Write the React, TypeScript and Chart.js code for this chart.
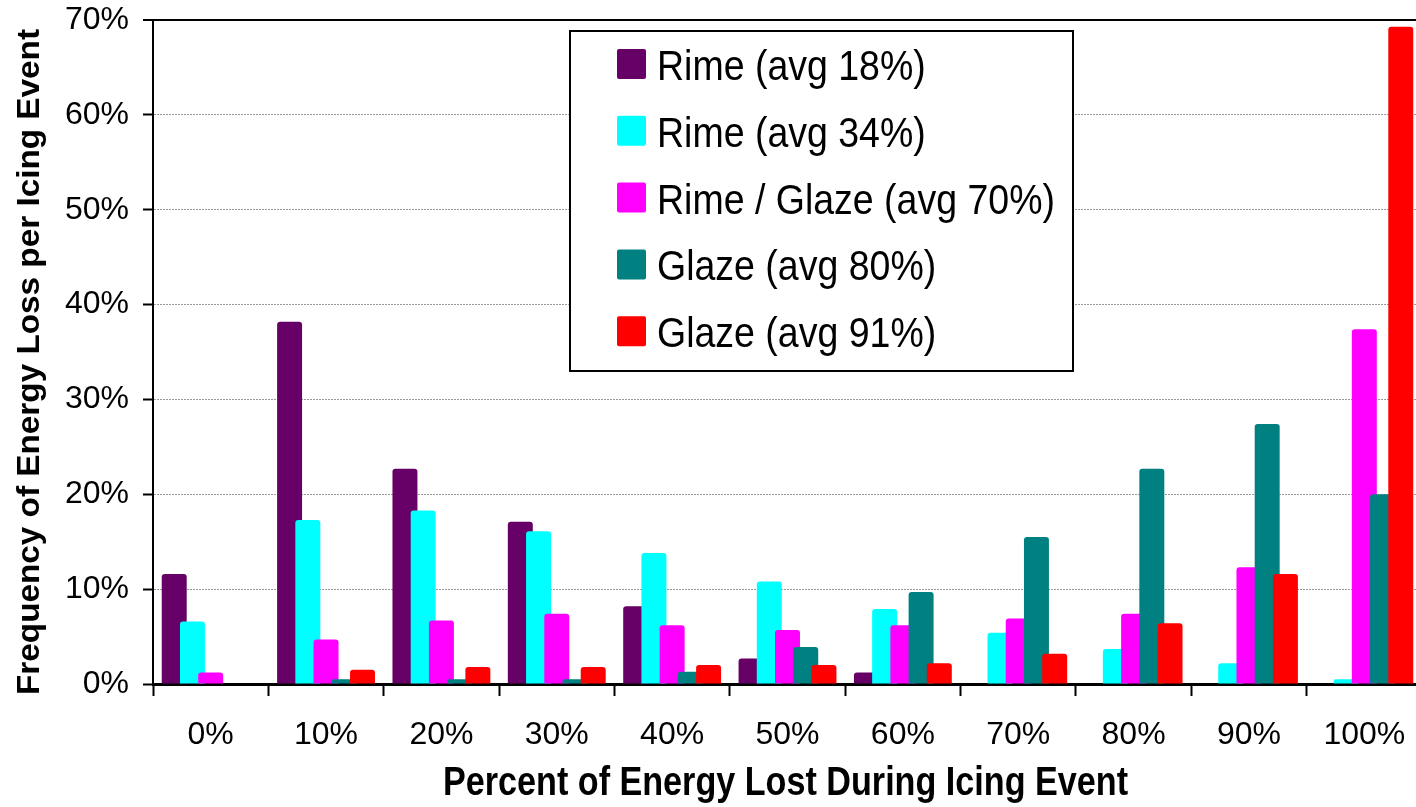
import { useEffect, useRef } from "react";
import { Chart, registerables } from "chart.js";

Chart.register(...registerables);

// Percent of energy lost during an icing event (x categories)
const categories = ["0%", "10%", "20%", "30%", "40%", "50%", "60%", "70%", "80%", "90%", "100%"];

// Frequency (%) of each energy-loss bin, one array per icing type
const rimeAvg18 = [11.6, 38.2, 22.7, 17.1, 8.2, 2.7, 1.2, 0, 0, 0, 0];
const rimeAvg34 = [6.6, 17.3, 18.3, 16.1, 13.8, 10.8, 7.9, 5.4, 3.7, 2.2, 0.5];
const rimeGlazeAvg70 = [1.2, 4.7, 6.7, 7.4, 6.2, 5.7, 6.2, 6.9, 7.4, 12.3, 37.4];
const glazeAvg80 = [0, 0.5, 0.5, 0.5, 1.3, 3.9, 9.7, 15.5, 22.7, 27.4, 20.0];
const glazeAvg91 = [0, 1.5, 1.8, 1.8, 2.0, 2.0, 2.2, 3.2, 6.4, 11.6, 69.3];

const seriesNames = [
  "Rime (avg 18%)",
  "Rime (avg 34%)",
  "Rime / Glaze (avg 70%)",
  "Glaze (avg 80%)",
  "Glaze (avg 91%)",
];
const seriesValues = [rimeAvg18, rimeAvg34, rimeGlazeAvg70, glazeAvg80, glazeAvg91];
const seriesColors = ["#660066", "#00FFFF", "#FF00FF", "#008080", "#FF0000"];

// y axis range and tick step, in percent
const yMin = 0;
const yMax = 70;
const yStep = 10;

const xTitle = "Percent of Energy Lost During Icing Event";
const yTitle = "Frequency of Energy Loss per Icing Event";

const SANS = "'Liberation Sans', Arial, Helvetica, sans-serif";

// Draws text squeezed or stretched along its direction to a given length
function drawFitted(
  ctx: CanvasRenderingContext2D,
  text: string,
  x: number,
  y: number,
  length: number,
  font: string,
  rotate = 0
) {
  ctx.save();
  ctx.font = font;
  ctx.textAlign = "center";
  ctx.textBaseline = "alphabetic";
  ctx.fillStyle = "#000";
  const w = ctx.measureText(text).width;
  ctx.translate(x, y);
  if (rotate) ctx.rotate(rotate);
  ctx.scale(length / w, 1);
  ctx.fillText(text, 0, 0);
  ctx.restore();
}

// Later series are painted over earlier ones where neighbouring bars overlap
const paintInSeriesOrder = {
  id: "paintInSeriesOrder",
  beforeDatasetsDraw(chart: any) {
    for (let i = 0; i < chart.data.datasets.length; i++) {
      const meta = chart.getDatasetMeta(i);
      if (meta.visible !== false) meta.controller.draw();
    }
    return false;
  },
};

// Boxed legend inside the plot and the two axis titles
const legendAndTitles = {
  id: "legendAndTitles",
  afterDraw(chart: any) {
    const { ctx, chartArea } = chart;

    // legend box
    const left = chartArea.left + 417;
    const top = chartArea.top + 11;
    const w = 503;
    const h = 340;
    ctx.save();
    ctx.fillStyle = "#fff";
    ctx.fillRect(left, top, w, h);
    ctx.lineWidth = 2;
    ctx.strokeStyle = "#000";
    ctx.strokeRect(left, top, w, h);

    ctx.font = `42px ${SANS}`;
    const sx = 398 / ctx.measureText(seriesNames[2]).width;
    chart.data.datasets.forEach((ds: any, i: number) => {
      const cy = top + 33 + i * 66.8;
      ctx.fillStyle = ds.backgroundColor;
      ctx.beginPath();
      (ctx as any).roundRect(left + 47, cy - 15, 29, 30, 2);
      ctx.fill();
      ctx.save();
      ctx.fillStyle = "#000";
      ctx.textAlign = "left";
      ctx.textBaseline = "alphabetic";
      ctx.translate(left + 87, cy + 16);
      ctx.scale(sx, 1);
      ctx.fillText(ds.label, 0, 0);
      ctx.restore();
    });
    ctx.restore();

    // axis titles
    drawFitted(ctx, xTitle, 785.5, 795, 685, `bold 41px ${SANS}`);
    drawFitted(ctx, yTitle, 39, 362, 666, `bold 31px ${SANS}`, -Math.PI / 2);
  },
};

export default function App() {
  const canvasRef = useRef<HTMLCanvasElement | null>(null);

  useEffect(() => {
    document.body.style.margin = "0";
    document.body.style.overflow = "hidden";
    const canvas = canvasRef.current;
    if (!canvas) return;

    const chart = new Chart(canvas, {
      type: "bar",
      data: {
        labels: categories,
        datasets: seriesValues.map((values, i) => ({
          label: seriesNames[i],
          data: values,
          backgroundColor: seriesColors[i],
          borderWidth: 0,
          borderRadius: 3,
          borderSkipped: "start",
          categoryPercentage: 0.79,
          barPercentage: 1.37,
        })),
      },
      options: {
        animation: false,
        responsive: true,
        maintainAspectRatio: false,
        events: [],
        layout: { padding: { top: 20, right: 0, bottom: 0, left: 0 } },
        plugins: {
          legend: { display: false },
          tooltip: { enabled: false },
          title: { display: false },
        },
        scales: {
          x: {
            offset: true,
            afterFit: (scale: any) => {
              scale.height = 123;
              scale.paddingLeft = 0;
              scale.paddingRight = 0;
            },
            grid: {
              offset: true,
              drawOnChartArea: false,
              drawTicks: true,
              tickLength: 12,
              tickWidth: 2,
              tickColor: "#000",
            },
            border: { display: true, color: "#000", width: 3 },
            ticks: {
              color: "#000",
              padding: 20,
              maxRotation: 0,
              autoSkip: false,
              font: { family: SANS, size: 32 },
            },
          },
          y: {
            min: yMin,
            max: yMax,
            afterFit: (scale: any) => {
              scale.width = 153;
              scale.paddingTop = 0;
              scale.paddingBottom = 0;
            },
            grid: {
              color: (c: any) =>
                c.tick && c.tick.value === yMax
                  ? "#000"
                  : c.tick && c.tick.value === yMin
                  ? "rgba(0,0,0,0)"
                  : "#9a9a9a",
              lineWidth: (c: any) => (c.tick && c.tick.value === yMax ? 2 : 1),
              drawTicks: true,
              tickLength: 10,
              tickWidth: 2,
              tickColor: "#000",
            },
            border: {
              display: true,
              color: "#000",
              width: 2,
              dash: (c: any) => (c.tick && c.tick.value === yMax ? [] : [2, 1]),
            },
            ticks: {
              stepSize: yStep,
              color: "#000",
              padding: 14,
              font: { family: SANS, size: 32 },
              callback: (v: any) => `${v}%`,
            },
          },
        },
      },
      plugins: [paintInSeriesOrder, legendAndTitles],
    } as any);

    return () => chart.destroy();
  }, []);

  return (
    <div style={{ width: 1416, height: 807, overflow: "hidden", background: "#fff" }}>
      <div style={{ width: 1422, height: 807, position: "relative" }}>
        <canvas ref={canvasRef} />
      </div>
    </div>
  );
}
